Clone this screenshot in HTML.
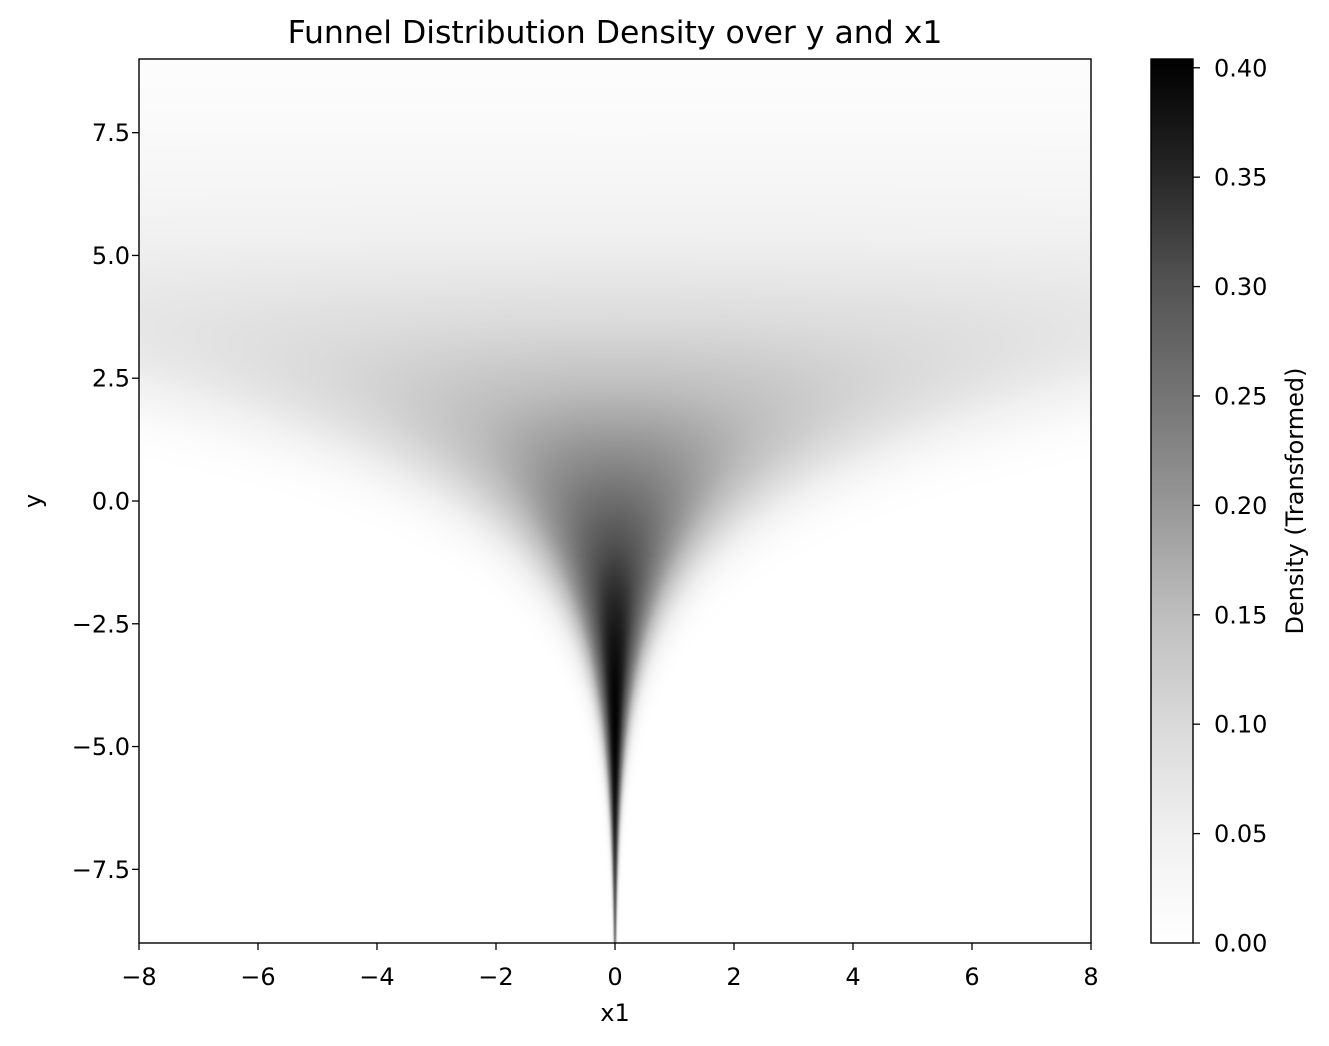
<!DOCTYPE html>
<html><head><meta charset="utf-8">
<style>
body{margin:0;background:#fff;width:1329px;height:1046px;overflow:hidden;font-family:"DejaVu Sans","Liberation Sans",sans-serif;}
#wrap{position:relative;width:1329px;height:1046px;}
svg text{font-family:"DejaVu Sans","Liberation Sans",sans-serif;fill:#000;}
canvas{position:absolute;}
</style></head>
<body>
<div id="wrap">
<canvas id="heat" style="left:139px;top:59px" width="952" height="884"></canvas>
<canvas id="cbar" style="left:1151px;top:59px" width="42" height="884"></canvas>
<svg id="ov" width="1329" height="1046" style="position:absolute;left:0;top:0"></svg>
</div>
<script>
// data / parameters
const xTicks = [-8,-6,-4,-2,0,2,4,6,8];
const yTicks = [-7.5,-5.0,-2.5,0.0,2.5,5.0,7.5];
const cbTicks = [0.00,0.05,0.10,0.15,0.20,0.25,0.30,0.35,0.40];
const xRange = [-8, 8];
const yRange = [-9, 9];
const ySigma = [3];
const transformPower = [0.38];
const cMax = [0.404];
const greysStops = [0,0.125,0.25,0.375,0.5,0.625,0.75,0.875,1];
const greysVals = [255,240,217,189,150,115,82,37,0];

const L=139,R=1091,T=59,B=943;
const sx = v => L + (v - xRange[0])/(xRange[1]-xRange[0])*(R-L);
const sy = v => B - (v - yRange[0])/(yRange[1]-yRange[0])*(B-T);
const cy = v => B - v/cMax[0]*(B-T);

function grey(t){
  t=Math.max(0,Math.min(1,t));
  for(let i=1;i<greysStops.length;i++){
    if(t<=greysStops[i]){
      const f=(t-greysStops[i-1])/(greysStops[i]-greysStops[i-1]);
      return greysVals[i-1]+f*(greysVals[i]-greysVals[i-1]);
    }
  }
  return 0;
}
function dens(x,y){
  const s=ySigma[0];
  const py=Math.exp(-y*y/(2*s*s))/(s*Math.sqrt(2*Math.PI));
  const sd=Math.exp(y/2);
  const px=Math.exp(-x*x/(2*sd*sd))/(sd*Math.sqrt(2*Math.PI));
  return py*px;
}
const pmax = dens(0,-ySigma[0]*ySigma[0]/2);
function val(x,y){return 0.4*Math.pow(dens(x,y)/pmax, transformPower[0]);}

(function(){
  const c=document.getElementById('heat');const ctx=c.getContext('2d');
  const W=c.width,H=c.height;const img=ctx.createImageData(W,H);
  const SS=4;
  for(let j=0;j<H;j++){
    const y=yRange[1]-(j+0.5)/H*(yRange[1]-yRange[0]);
    for(let i=0;i<W;i++){
      let acc=0;
      for(let k=0;k<SS;k++){
        const x=xRange[0]+(i+(k+0.5)/SS)/W*(xRange[1]-xRange[0]);
        acc+=grey(val(x,y)/cMax[0]);
      }
      const g=acc/SS;const o=(j*W+i)*4;
      img.data[o]=img.data[o+1]=img.data[o+2]=g;img.data[o+3]=255;
    }
  }
  ctx.putImageData(img,0,0);
  const cb=document.getElementById('cbar');const cx=cb.getContext('2d');
  for(let j=0;j<cb.height;j++){
    const g=Math.round(grey(1-(j+0.5)/cb.height));
    cx.fillStyle=`rgb(${g},${g},${g})`;cx.fillRect(0,j,cb.width,1);
  }
})();

const NS='http://www.w3.org/2000/svg';
const ov=document.getElementById('ov');
function mk(tag,attrs,text){const e=document.createElementNS(NS,tag);for(const k in attrs)e.setAttribute(k,attrs[k]);if(text!==undefined)e.textContent=text;ov.appendChild(e);return e;}
const fmt=v=>(v<0?'\u2212':'')+Math.abs(v).toFixed(1);
const fmt2=v=>v.toFixed(2);
const FS=24;

let e=mk('rect',{x:L,y:T,width:R-L,height:B-T,fill:'none',stroke:'#000','stroke-width':1.4});


xTicks.forEach(v=>{
  const x=sx(v);
  let t=mk('line',{x1:x,x2:x,y1:B,y2:B+7,stroke:'#000','stroke-width':1.3});
  
  
  let l=mk('text',{x:x,y:B+42,'font-size':FS,'text-anchor':'middle'},(v<0?'\u2212':'')+Math.abs(v));
  
  
});
yTicks.forEach(v=>{
  const y=sy(v);
  let t=mk('line',{x1:L-7,x2:L,y1:y,y2:y,stroke:'#000','stroke-width':1.3});
  
  
  let l=mk('text',{x:L-9,y:y+8.5,'font-size':FS,'text-anchor':'end'},fmt(v));
  
  
});
e=mk('rect',{x:1151,y:T,width:42,height:B-T,fill:'none',stroke:'#000','stroke-width':1.4});


cbTicks.forEach(v=>{
  const y=cy(v);
  let t=mk('line',{x1:1193,x2:1200,y1:y,y2:y,stroke:'#000','stroke-width':1.3});
  
  
  let l=mk('text',{x:1214,y:y+8.5,'font-size':FS},fmt2(v));
  
  
});
e=mk('text',{x:615,y:43,'font-size':31.5,'text-anchor':'middle'},'Funnel Distribution Density over y and x1');


e=mk('text',{x:615,y:1021,'font-size':FS,'text-anchor':'middle'},'x1');


e=mk('text',{x:41,y:501,'font-size':FS,'text-anchor':'middle',transform:'rotate(-90 41 501)'},'y');


e=mk('text',{x:1303,y:501,'font-size':FS,'text-anchor':'middle',transform:'rotate(-90 1303 501)'},'Density (Transformed)');


</script>
</body></html>
